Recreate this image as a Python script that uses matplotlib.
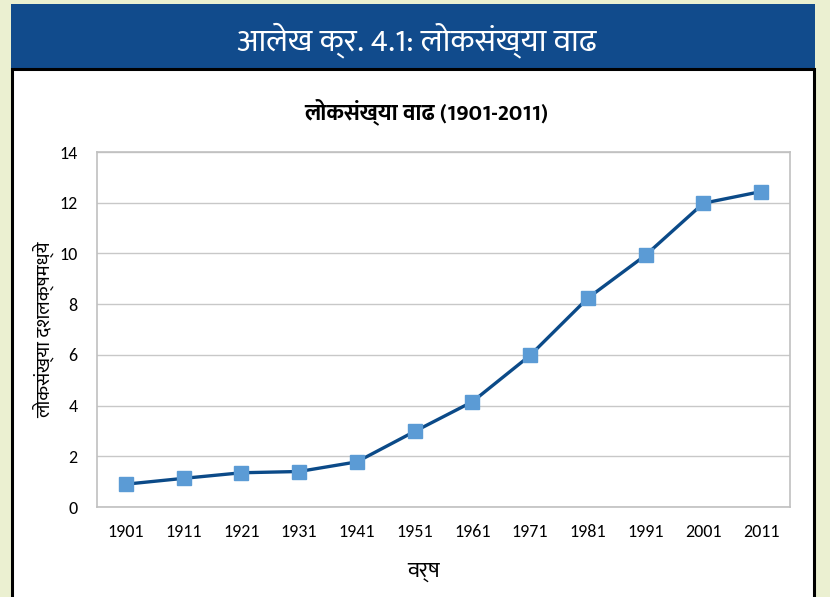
import matplotlib
matplotlib.use("Agg")
import matplotlib.pyplot as plt
from matplotlib.patches import Rectangle

years = ["1901", "1911", "1921", "1931", "1941", "1951",
         "1961", "1971", "1981", "1991", "2001", "2011"]
population = [0.90, 1.13, 1.35, 1.40, 1.78, 2.98,
              4.15, 5.98, 8.24, 9.93, 11.98, 12.44]
yticks = [0, 2, 4, 6, 8, 10, 12, 14]

header = "आलेख क्र. 4.1: लोकसंख्या वाढ"
title = "लोकसंख्या वाढ (1901-2011)"
ylabel = "लोकसंख्या दशलक्षमध्ये"
xlabel = "वर्ष"

DEVA = ["Ek Mukta", "DejaVu Sans"]
LATIN = ["Carlito", "Open Sans", "DejaVu Sans"]
plt.rcParams["font.family"] = DEVA

W, H = 830, 597
fig = plt.figure(figsize=(W / 100, H / 100), dpi=100, facecolor="#ebf0d1")


def fx(x):
    return x / W


def fy(y):
    return 1 - y / H


# blue header band and white chart box, behind the axes
fig.patches.append(Rectangle((fx(11), fy(69)), fx(804), 65 / H,
                             transform=fig.transFigure, facecolor="#114b8c",
                             edgecolor="none", zorder=-2))
fig.patches.append(Rectangle((fx(12), fy(599)), fx(802), 530 / H,
                             transform=fig.transFigure, facecolor="white",
                             edgecolor="black", linewidth=2.2, zorder=-1))
fig.text(fx(417), fy(40), header, color="white", fontsize=23,
         ha="center", va="center")

ax = fig.add_axes([fx(97), fy(507), fx(693), (507 - 152) / H])
x = range(len(years))
ax.plot(x, population, color="#0b4a88", linewidth=2.4, marker="s",
        markersize=10, markerfacecolor="#5b9bd5", markeredgecolor="#5b9bd5",
        zorder=3, clip_on=False)

ax.set_xlim(-0.5, len(years) - 0.5)
ax.set_ylim(0, 14)
ax.set_xticks(list(x))
ax.set_xticklabels(years, family=LATIN)
ax.set_yticks(yticks)
ax.set_yticklabels([str(v) for v in yticks], family=LATIN)
ax.tick_params(length=0, labelsize=13, pad=12)
ax.tick_params(axis="y", pad=14)
ax.grid(axis="y", color="#c8c8c8", linewidth=1)
ax.set_axisbelow(True)
for s in ax.spines.values():
    s.set_color("#c0c0c0")
    s.set_linewidth(1.2)

fig.text(fx(426), fy(112), title, fontsize=16.5, fontweight="bold",
         ha="center", va="center")
fig.text(fx(43), fy(330), ylabel, fontsize=14, rotation=90,
         ha="center", va="center")
fig.text(fx(424), fy(571), xlabel, fontsize=16, ha="center", va="center")

fig.savefig("out.png", dpi=100, facecolor=fig.get_facecolor())
